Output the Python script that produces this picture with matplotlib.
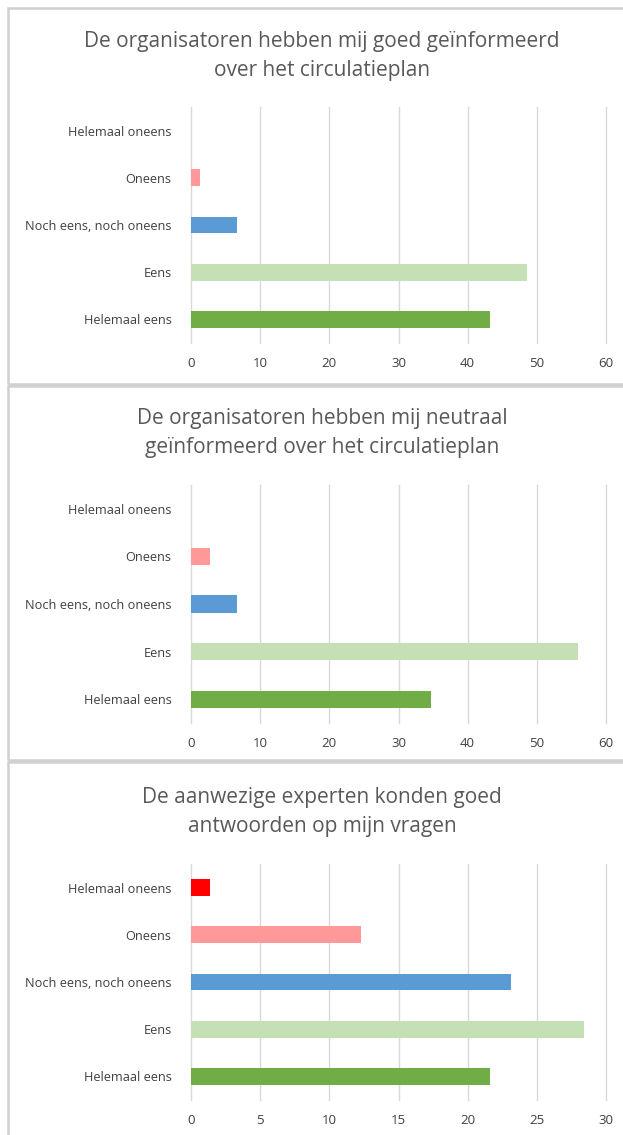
import matplotlib.pyplot as plt
from matplotlib.patches import Rectangle

plt.rcParams['font.family'] = ['Open Sans', 'DejaVu Sans']

# categorieën (van onder naar boven zoals in de grafiek)
categorieen = ['Helemaal eens', 'Eens', 'Noch eens, noch oneens', 'Oneens', 'Helemaal oneens']
kleuren = ['#70ad47', '#c5e0b4', '#5b9bd5', '#ff9999', '#ff0000']

titels = ['De organisatoren hebben mij goed geïnformeerd\nover het circulatieplan',
          'De organisatoren hebben mij neutraal\ngeïnformeerd over het circulatieplan',
          'De aanwezige experten konden goed\nantwoorden op mijn vragen']

goed_geinformeerd = [43.3, 48.6, 6.7, 1.3, 0]
neutraal_geinformeerd = [34.7, 56.0, 6.7, 2.7, 0]
experten_antwoorden = [21.6, 28.4, 23.1, 12.3, 1.4]

x_max = [60, 60, 30]
x_stap = [10, 10, 5]

#--------------------------------------
# figuur en panelen
#--------------------------------------
fig = plt.figure(figsize=(6.23, 11.35), dpi=100)
H = 1135.0
W = 623.0

# kaders rond elk paneel (top, bottom in pixels)
kaders = [(8, 384), (386, 760), (762, 1140)]
for top, bot in kaders:
    fig.patches.append(Rectangle((8 / W, 1 - bot / H), 1.0, (bot - top) / H,
                                 transform=fig.transFigure, fill=False,
                                 edgecolor='#d0d0d0', linewidth=1.8))

as_posities = [(107, 343), (485, 723), (864, 1100)]
titel_y = [56, 433, 812]

reeksen = [goed_geinformeerd, neutraal_geinformeerd, experten_antwoorden]

for i in range(3):
    top, bot = as_posities[i]
    ax = fig.add_axes([191 / W, 1 - bot / H, (606 - 191) / W, (bot - top) / H])
    y = range(len(categorieen))
    ax.barh(y, reeksen[i], height=0.36, color=kleuren, zorder=3)
    ax.set_xlim(0, x_max[i])
    ax.set_ylim(-0.5, 4.5)
    ax.set_yticks(list(y))
    ax.set_yticklabels(categorieen, fontsize=9.2, color='#404040')
    ax.set_xticks(range(0, x_max[i] + 1, x_stap[i]))
    ax.tick_params(axis='x', labelsize=9.5, labelcolor='#404040', length=0, pad=10)
    ax.tick_params(axis='y', length=0, pad=14)
    ax.grid(axis='x', color='#d9d9d9', linewidth=1, zorder=0)
    for gl in ax.get_xgridlines():
        gl.set_clip_on(False)
    for s in ax.spines.values():
        s.set_visible(False)
    ax.set_facecolor('none')
    fig.text(322 / W, 1 - titel_y[i] / H, titels[i], ha='center', va='center',
             fontsize=15, color='#595959', linespacing=1.55)

plt.savefig('out.png', dpi=100)
